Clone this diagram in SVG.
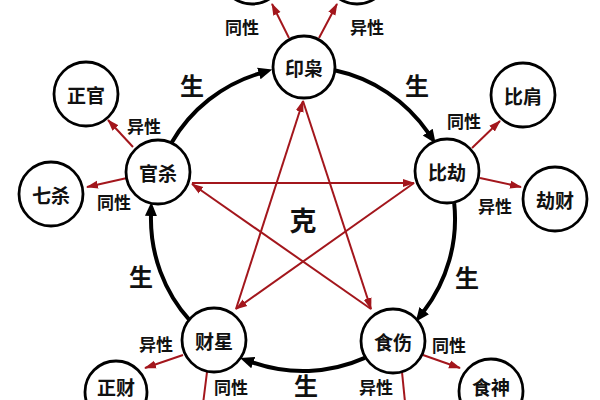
<svg xmlns="http://www.w3.org/2000/svg" width="600" height="400" viewBox="0 0 600 400">
<style>
.node circle{fill:#fff;stroke:#000;stroke-width:2.8}
.node text{font-family:"Noto Sans CJK SC","Noto Sans",sans-serif;font-size:19px;font-weight:700;text-anchor:middle;dominant-baseline:central;fill:#111}
.sheng{fill:none;stroke:#000;stroke-width:4;marker-end:url(#ab)}
.ke{fill:none;stroke:#a3161c;stroke-width:2;marker-end:url(#ar)}
.lbl{font-family:"Noto Sans CJK SC","Noto Sans",sans-serif;font-size:17px;font-weight:700;text-anchor:middle;dominant-baseline:central;fill:#111}
.big{font-family:"Noto Sans CJK SC","Noto Sans",sans-serif;font-size:24px;font-weight:700;text-anchor:middle;dominant-baseline:central;fill:#111}
</style>
<defs>
<marker id="ab" markerUnits="userSpaceOnUse" markerWidth="16" markerHeight="14" viewBox="0 -7 16 14" refX="1" refY="0" orient="auto">
<path d="M0,-6 L14,0 L0,6 z" fill="#000"/>
</marker>
<marker id="ar" markerUnits="userSpaceOnUse" markerWidth="14" markerHeight="10" viewBox="0 -5 14 10" refX="11" refY="0" orient="auto">
<path d="M0,-4 L12,0 L0,4 z" fill="#a3161c"/>
</marker>
</defs>
<rect width="600" height="400" fill="#fff"/>
<g id="connectors">
<path class="sheng" d="M334.6,70.3 A152,152 0 0 1 428.3,132.9"/>
<path class="sheng" d="M454.2,203.1 A152,152 0 0 1 423.6,311.5"/>
<path class="sheng" d="M364.8,357.9 A152,152 0 0 1 252.3,362.3"/>
<path class="sheng" d="M190.0,320.7 A152,152 0 0 1 151.0,215.0"/>
<path class="sheng" d="M171.4,143.0 A152,152 0 0 1 259.8,73.3"/>
<path class="ke" d="M414,183 L236,309"/>
<path class="ke" d="M236,309 L303,101"/>
<path class="ke" d="M303,101 L371,309"/>
<path class="ke" d="M371,309 L192,184"/>
<path class="ke" d="M192,183 L414,183"/>
<path class="ke" d="M289,38 L272,4"/>
<path class="ke" d="M319,38 L337,4"/>
<path class="ke" d="M133,147 L108,120"/>
<path class="ke" d="M127,178 L87,187"/>
<path class="ke" d="M472,148 L500,121"/>
<path class="ke" d="M480,178 L521,187"/>
<path class="ke" d="M183,355 L145,368"/>
<path class="ke" d="M207,372 L202,412"/>
<path class="ke" d="M423,355 L460,368"/>
<path class="ke" d="M402,372 L406,412"/>
<text class="lbl" x="231" y="386">同性</text>
<text class="lbl" x="376" y="386">异性</text>
<text class="lbl" x="242" y="26">同性</text>
<text class="lbl" x="367" y="26">异性</text>
<text class="lbl" x="144" y="125">异性</text>
<text class="lbl" x="114" y="201">同性</text>
<text class="lbl" x="464" y="120">同性</text>
<text class="lbl" x="495" y="205">异性</text>
<text class="lbl" x="156" y="343">异性</text>
<text class="lbl" x="449" y="344">同性</text>
<text class="big" x="192" y="84">生</text>
<text class="big" x="417" y="84">生</text>
<text class="big" x="467" y="276">生</text>
<text class="big" x="141" y="275">生</text>
<text class="big" x="306" y="384">生</text>
<text class="big" x="303" y="219" style="font-size:27px">克</text>
</g>
<g id="top-left" class="node"><circle cx="252" cy="-28" r="32"/></g>
<g id="top-right" class="node"><circle cx="357" cy="-28" r="32"/></g>
<g id="yinxiao" class="node"><circle cx="304" cy="67" r="31"/><text x="304" y="67">印枭</text></g>
<g id="guansha" class="node"><circle cx="158" cy="172" r="32"/><text x="158" y="172">官杀</text></g>
<g id="bijie" class="node"><circle cx="447" cy="171" r="32"/><text x="447" y="171">比劫</text></g>
<g id="caixing" class="node"><circle cx="214" cy="340" r="32"/><text x="214" y="340">财星</text></g>
<g id="shishang" class="node"><circle cx="393" cy="341" r="32"/><text x="393" y="341">食伤</text></g>
<g id="zhengguan" class="node"><circle cx="86" cy="94" r="32"/><text x="86" y="94">正官</text></g>
<g id="qisha" class="node"><circle cx="51" cy="194" r="32"/><text x="51" y="194">七杀</text></g>
<g id="bijian" class="node"><circle cx="523" cy="95" r="32"/><text x="523" y="95">比肩</text></g>
<g id="jiecai" class="node"><circle cx="555" cy="199" r="32"/><text x="555" y="199">劫财</text></g>
<g id="zhengcai" class="node"><circle cx="116" cy="392" r="31"/><text x="116" y="386">正财</text></g>
<g id="shishen" class="node"><circle cx="491" cy="391" r="32"/><text x="491" y="386">食神</text></g>
</svg>
